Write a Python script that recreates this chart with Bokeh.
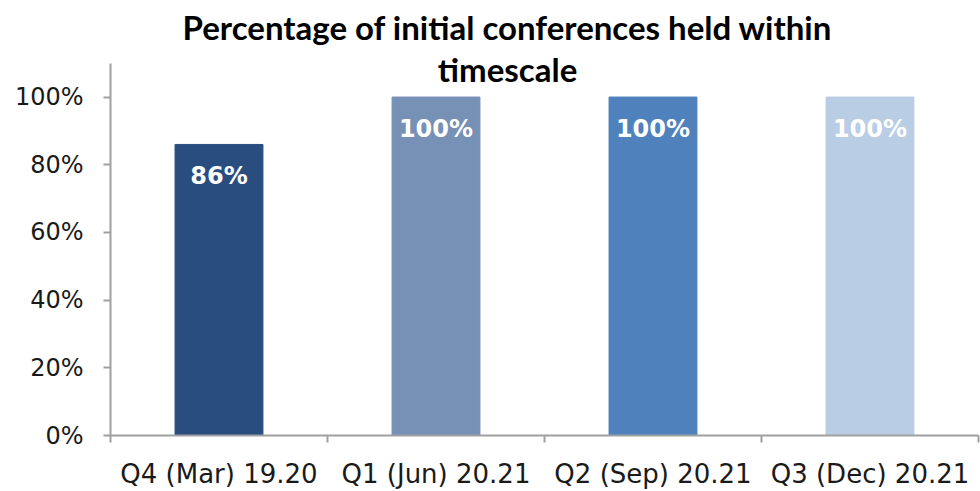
from bokeh.plotting import figure
from bokeh.models import ColumnDataSource, Range1d, LinearAxis, FixedTicker, Label, LabelSet, NumeralTickFormatter
from bokeh.core.properties import value
from bokeh.embed import file_html
from bokeh.resources import INLINE

categories = ["Q4 (Mar) 19.20", "Q1 (Jun) 20.21", "Q2 (Sep) 20.21", "Q3 (Dec) 20.21"]
values = [0.86, 1.00, 1.00, 1.00]
value_labels = ["86%", "100%", "100%", "100%"]
colors = ["#294d7f", "#7690b6", "#4f81bd", "#b9cde5"]
title_lines = ["Percentage of initial conferences held within", "timescale"]

positions = [i + 0.5 for i in range(len(categories))]
src = ColumnDataSource(dict(x=positions, top=values, color=colors, lab=value_labels))

Y_AXIS_TOP = 1.1
p = figure(width=980, height=491, output_backend="svg", toolbar_location=None,
           x_range=Range1d(0, len(categories)), y_range=Range1d(0, 1.2794),
           x_axis_type=None, y_axis_type=None,
           min_border_left=110, min_border_right=2, min_border_top=2, min_border_bottom=54)
p.outline_line_color = None
p.grid.visible = False
p.background_fill_color = "white"

p.vbar(x="x", top="top", width=0.405, bottom=0, color="color", source=src)

AXC = "#a0a0a0"
FONT = "DejaVu Sans"

yaxis = LinearAxis(ticker=FixedTicker(ticks=[0, 0.2, 0.4, 0.6, 0.8, 1.0]),
                   formatter=NumeralTickFormatter(format="0%"), bounds=(0, Y_AXIS_TOP))
yaxis.axis_line_color = AXC
yaxis.axis_line_width = 2
yaxis.major_tick_line_color = AXC
yaxis.major_tick_line_width = 2
yaxis.major_tick_out = 7
yaxis.major_tick_in = 0
yaxis.minor_tick_line_color = None
yaxis.major_label_text_font = FONT
yaxis.major_label_text_font_size = "24px"
yaxis.major_label_text_color = "#1a1a1a"
yaxis.major_label_standoff = 20
p.add_layout(yaxis, "left")

xaxis = LinearAxis(ticker=FixedTicker(ticks=positions, minor_ticks=list(range(len(categories) + 1))),
                   major_label_overrides={pos: c for pos, c in zip(positions, categories)})
xaxis.axis_line_color = AXC
xaxis.axis_line_width = 2
xaxis.major_tick_line_color = None
xaxis.minor_tick_line_color = AXC
xaxis.minor_tick_line_width = 2
xaxis.minor_tick_out = 7
xaxis.minor_tick_in = 0
xaxis.major_label_text_font = FONT
xaxis.major_label_text_font_size = "26px"
xaxis.major_label_text_color = "#1a1a1a"
xaxis.major_label_standoff = 16
p.add_layout(xaxis, "below")

labels = LabelSet(x="x", y="top", text="lab", source=src, text_align="center",
                  text_baseline="middle", y_offset=-32, text_color="white",
                  text_font=value("DejaVu Sans"), text_font_style="bold", text_font_size="24px")
p.add_layout(labels)

for line, yoff in zip(title_lines, [36, -6]):
    p.add_layout(Label(x=1.83, y=Y_AXIS_TOP, y_offset=yoff, text=line,
                       text_align="center", text_baseline="middle", text_font="Lato",
                       text_font_style="bold", text_font_size="33px", text_color="black"))

open("out.html", "w").write(file_html(p, INLINE))
